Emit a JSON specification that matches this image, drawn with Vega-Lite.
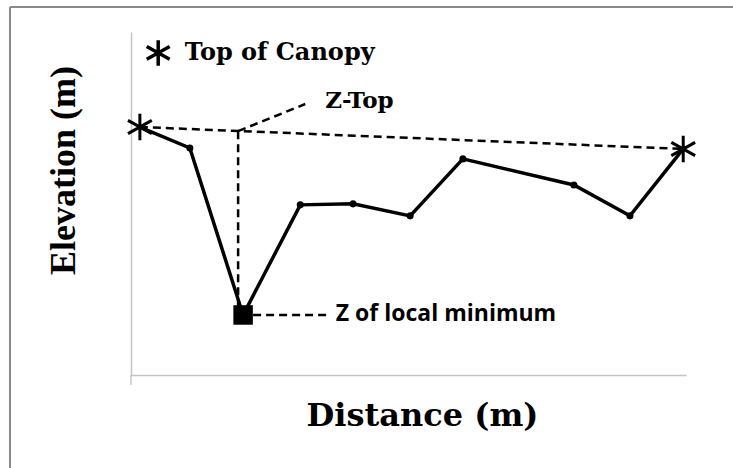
{
  "$schema": "https://vega.github.io/schema/vega-lite/v6.json",
  "width": 555,
  "height": 343,
  "autosize": {"type": "none"},
  "padding": {"left": 131, "top": 32, "right": 47, "bottom": 93},
  "background": "white",
  "config": {"view": {"stroke": null}},
  "data": {"values": [{}]},
  "datasets": {
    "profile": [
      {"distance": 1.6, "elevation": 72.3, "kind": "star"},
      {"distance": 10.6, "elevation": 66.2, "kind": "point"},
      {"distance": 20.2, "elevation": 17.5, "kind": "min"},
      {"distance": 30.5, "elevation": 49.6, "kind": "point"},
      {"distance": 40.0, "elevation": 49.9, "kind": "point"},
      {"distance": 50.3, "elevation": 46.4, "kind": "point"},
      {"distance": 59.8, "elevation": 63.0, "kind": "point"},
      {"distance": 79.8, "elevation": 55.4, "kind": "point"},
      {"distance": 89.9, "elevation": 46.4, "kind": "point"},
      {"distance": 99.5, "elevation": 65.9, "kind": "star"}
    ],
    "guides": [
      {"seg": "canopy", "distance": 1.6, "elevation": 72.3},
      {"seg": "canopy", "distance": 99.5, "elevation": 65.9},
      {"seg": "ztop", "distance": 19.3, "elevation": 71.1},
      {"seg": "ztop", "distance": 19.3, "elevation": 19.5},
      {"seg": "ztopleader", "distance": 19.3, "elevation": 71.1},
      {"seg": "ztopleader", "distance": 31.4, "elevation": 79.0},
      {"seg": "minleader", "distance": 22.0, "elevation": 17.5},
      {"seg": "minleader", "distance": 35.5, "elevation": 17.5}
    ]
  },
  "encoding": {
    "x": {"type": "quantitative", "scale": {"domain": [0, 100], "nice": false, "zero": false},
      "axis": {"title": "Distance (m)", "domainColor": "#c4c4c4", "domainWidth": 1.5, "ticks": false, "labels": false, "grid": false,
        "titleFont": "DejaVu Serif", "titleFontWeight": "bold", "titleFontSize": 32, "titleColor": "black",
        "titleBaseline": "middle", "titleY": 40, "titleX": 291}},
    "y": {"type": "quantitative", "scale": {"domain": [0, 100], "nice": false, "zero": false},
      "axis": {"title": "Elevation (m)", "domainColor": "#c4c4c4", "domainWidth": 1.5, "ticks": false, "labels": false, "grid": false,
        "titleFont": "Liberation Serif", "titleFontWeight": "bold", "titleFontSize": 36, "titleColor": "black",
        "titleBaseline": "middle", "titleX": -68, "titleY": 138}}
  },
  "layer": [
    {
      "mark": {"type": "rule", "color": "#8a8a8a", "strokeWidth": 2},
      "encoding": {
        "x": {"datum": -21.8, "type": "quantitative"},
        "x2": {"datum": 108.6},
        "y": {"datum": 107.3, "type": "quantitative"}
      }
    },
    {
      "mark": {"type": "rule", "color": "#8a8a8a", "strokeWidth": 2},
      "encoding": {
        "x": {"datum": -21.8, "type": "quantitative"},
        "y": {"datum": 107.3, "type": "quantitative"},
        "y2": {"datum": -27.5}
      }
    },
    {
      "mark": {"type": "rule", "color": "#c4c4c4", "strokeWidth": 1.5},
      "encoding": {
        "x": {"datum": 0, "type": "quantitative"},
        "y": {"datum": 0, "type": "quantitative"},
        "y2": {"datum": -2.9}
      }
    },
    {
      "data": {"name": "guides"},
      "mark": {"type": "line", "color": "black", "strokeWidth": 2.5, "strokeDash": [8, 5]},
      "encoding": {
        "x": {"field": "distance", "type": "quantitative"},
        "y": {"field": "elevation", "type": "quantitative"},
        "detail": {"field": "seg"},
        "order": {"field": "distance", "type": "quantitative"}
      }
    },
    {
      "data": {"name": "profile"},
      "mark": {"type": "line", "color": "black", "strokeWidth": 3.5},
      "encoding": {
        "x": {"field": "distance", "type": "quantitative"},
        "y": {"field": "elevation", "type": "quantitative"}
      }
    },
    {
      "data": {"name": "profile"},
      "transform": [{"filter": "datum.kind === 'point'"}],
      "mark": {"type": "point", "shape": "circle", "filled": true, "color": "black", "size": 50, "opacity": 1},
      "encoding": {
        "x": {"field": "distance", "type": "quantitative"},
        "y": {"field": "elevation", "type": "quantitative"}
      }
    },
    {
      "data": {"name": "profile"},
      "transform": [{"filter": "datum.kind === 'min'"}],
      "mark": {"type": "point", "shape": "square", "filled": true, "color": "black", "size": 380, "opacity": 1},
      "encoding": {
        "x": {"field": "distance", "type": "quantitative"},
        "y": {"field": "elevation", "type": "quantitative"}
      }
    },
    {
      "data": {"name": "profile"},
      "transform": [{"filter": "datum.kind === 'star'"}],
      "mark": {"type": "point", "shape": "M0,-1L0,1M-0.9,-0.5L0.9,0.5M-0.9,0.5L0.9,-0.5", "filled": false, "color": "black", "strokeWidth": 3, "size": 700, "opacity": 1},
      "encoding": {
        "x": {"field": "distance", "type": "quantitative"},
        "y": {"field": "elevation", "type": "quantitative"}
      }
    },
    {
      "mark": {"type": "point", "shape": "M0,-1L0,1M-0.9,-0.5L0.9,0.5M-0.9,0.5L0.9,-0.5", "filled": false, "color": "black", "strokeWidth": 3.5, "size": 650, "opacity": 1},
      "encoding": {
        "x": {"datum": 4.9, "type": "quantitative"},
        "y": {"datum": 93.9, "type": "quantitative"}
      }
    },
    {
      "mark": {"type": "text", "text": "Top of Canopy", "font": "DejaVu Serif", "fontWeight": "bold", "fontSize": 24, "align": "left", "baseline": "middle", "color": "black"},
      "encoding": {
        "x": {"datum": 9.7, "type": "quantitative"},
        "y": {"datum": 94.0, "type": "quantitative"}
      }
    },
    {
      "mark": {"type": "text", "text": "Z-Top", "font": "DejaVu Serif", "fontWeight": "bold", "fontSize": 23, "align": "left", "baseline": "alphabetic", "color": "black"},
      "encoding": {
        "x": {"datum": 35.0, "type": "quantitative"},
        "y": {"datum": 77.8, "type": "quantitative"}
      }
    },
    {
      "mark": {"type": "text", "text": "Z of local minimum", "font": "Open Sans", "fontWeight": "bold", "fontSize": 23, "align": "left", "baseline": "middle", "color": "black"},
      "encoding": {
        "x": {"datum": 36.9, "type": "quantitative"},
        "y": {"datum": 17.9, "type": "quantitative"}
      }
    }
  ]
}
